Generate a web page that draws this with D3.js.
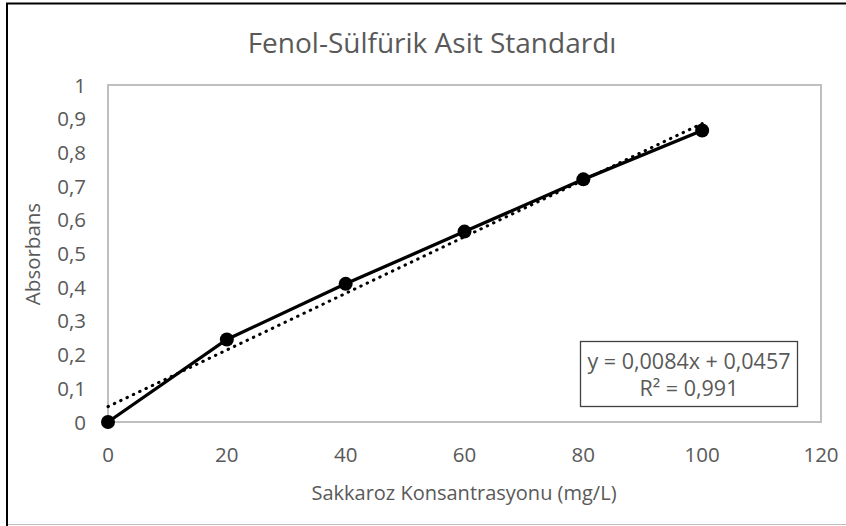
<!DOCTYPE html>
<meta charset="utf-8">
<head>
  <title>Fenol-Sülfürik Asit Standardı</title>
</head>
<style>
body {
  margin: 0;
  background: #fff;
  font-family: "Open Sans", sans-serif;
}
text {
  fill: #595959;
}
</style>
<body>
<svg width=846 height=526></svg>
<script src="https://cdnjs.cloudflare.com/ajax/libs/d3/7.8.5/d3.min.js"></script>
<script>
var concentrations = [0, 20, 40, 60, 80, 100];
var absorbance = [0, 0.245, 0.41, 0.565, 0.72, 0.865];
var xTicks = [0, 20, 40, 60, 80, 100, 120];
var yTicks = [0, 0.1, 0.2, 0.3, 0.4, 0.5, 0.6, 0.7, 0.8, 0.9, 1];
var trendSlope = 0.0084;
var trendIntercept = 0.0457;
var trendLabel = ["y = 0,0084x + 0,0457", "R² = 0,991"];

var svg = d3.select('svg');
var comma = function(v){ return String(v).replace('.', ','); };

var x = d3.scaleLinear().domain([0, 120]).range([108, 821]);
var y = d3.scaleLinear().domain([0, 1]).range([422, 85]);

// outer chart border (only top and left are black in the original)
svg.append('rect')
  .attr('x', 7).attr('y', 3.5).attr('width', 850).attr('height', 521)
  .attr('fill', 'none').attr('stroke', '#bfbfbf').attr('stroke-width', 1);
svg.append('path')
  .attr('d', 'M7,526V3.5H846')
  .attr('fill', 'none').attr('stroke', '#000').attr('stroke-width', 2);

// plot area
svg.append('rect')
  .attr('x', x(0)).attr('y', y(1))
  .attr('width', x(120) - x(0)).attr('height', y(0) - y(1))
  .attr('fill', 'none').attr('stroke', '#bfbfbf').attr('stroke-width', 2);

svg.append('text')
  .attr('x', 432).attr('y', 53)
  .attr('text-anchor', 'middle')
  .attr('font-size', 28)
  .text('Fenol-Sülfürik Asit Standardı');

svg.append('g').selectAll('text')
  .data(xTicks).enter().append('text')
  .attr('x', function(d){ return x(d); })
  .attr('y', 462)
  .attr('text-anchor', 'middle')
  .attr('font-size', 20.5)
  .text(function(d){ return d; });

svg.append('g').selectAll('text')
  .data(yTicks).enter().append('text')
  .attr('x', 86)
  .attr('y', function(d){ return y(d) + 7.5; })
  .attr('text-anchor', 'end')
  .attr('font-size', 20.5)
  .text(function(d){ return comma(d); });

svg.append('text')
  .attr('x', 464).attr('y', 500)
  .attr('text-anchor', 'middle')
  .attr('font-size', 20)
  .text('Sakkaroz Konsantrasyonu (mg/L)');

svg.append('text')
  .attr('transform', 'translate(40,254) rotate(-90)')
  .attr('text-anchor', 'middle')
  .attr('font-size', 20.5)
  .text('Absorbans');

var points = concentrations.map(function(c, i){ return [c, absorbance[i]]; });

svg.append('path')
  .datum(points)
  .attr('fill', 'none')
  .attr('stroke', '#000')
  .attr('stroke-width', 3.3)
  .attr('d', d3.line().x(function(d){ return x(d[0]); }).y(function(d){ return y(d[1]); }));

var trendX = [0, 100];
svg.append('path')
  .datum(trendX)
  .attr('fill', 'none')
  .attr('stroke', '#000')
  .attr('stroke-width', 3)
  .attr('stroke-linecap', 'round')
  .attr('stroke-dasharray', '0.5,6.5')
  .attr('d', d3.line().x(function(d){ return x(d); }).y(function(d){ return y(trendSlope * d + trendIntercept); }));

svg.append('g').selectAll('circle')
  .data(points).enter().append('circle')
  .attr('cx', function(d){ return x(d[0]); })
  .attr('cy', function(d){ return y(d[1]); })
  .attr('r', 7)
  .attr('fill', '#000');

// trendline label box
svg.append('rect')
  .attr('x', 580.5).attr('y', 341.5).attr('width', 217).attr('height', 65)
  .attr('fill', '#fff').attr('stroke', '#404040').attr('stroke-width', 1.3);
svg.append('g').selectAll('text')
  .data(trendLabel).enter().append('text')
  .attr('x', 689)
  .attr('y', function(d, i){ return 369 + i * 27; })
  .attr('text-anchor', 'middle')
  .attr('font-size', 21.5)
  .text(function(d){ return d; });
</script>
</body>
</html>
